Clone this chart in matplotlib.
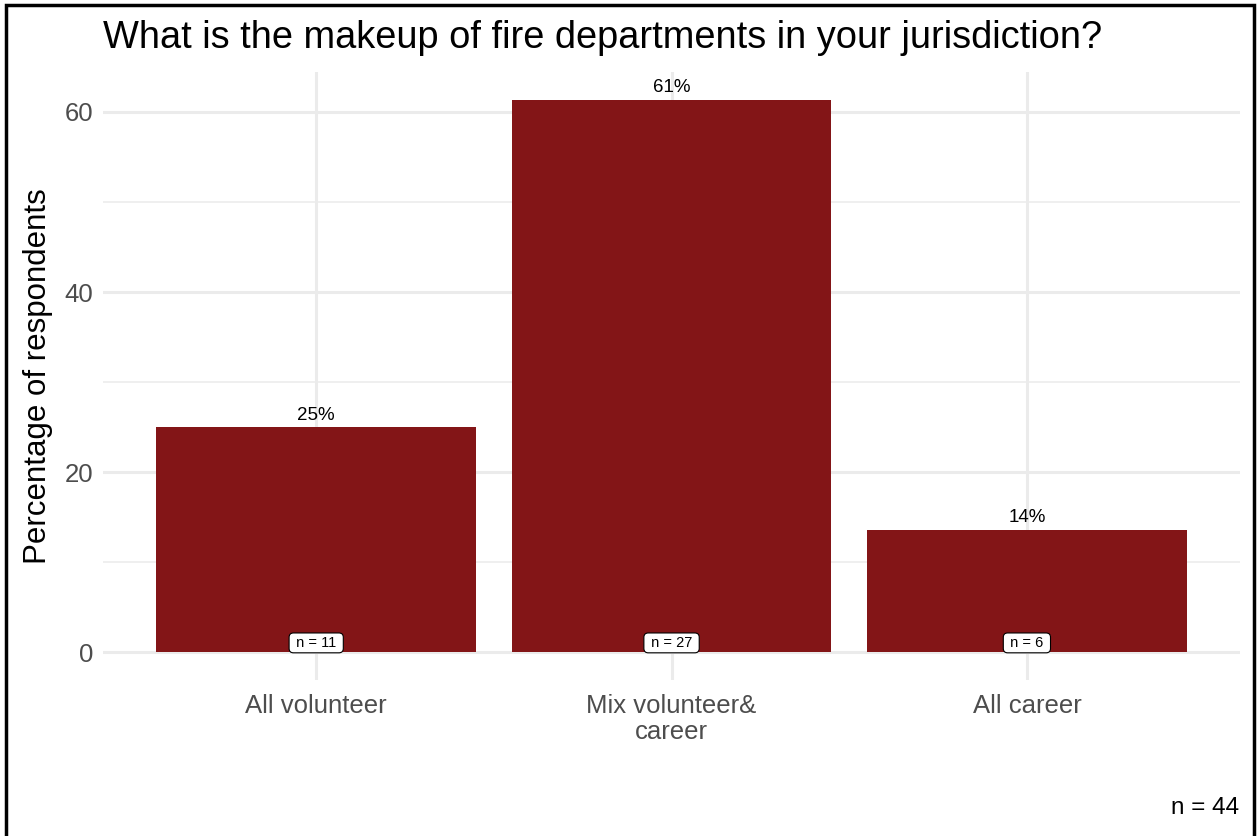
import numpy as np
import matplotlib
matplotlib.use("Agg")
import matplotlib.pyplot as plt
from matplotlib.patches import Rectangle

categories = ["All volunteer", "Mix volunteer&\ncareer", "All career"]
counts = [11, 27, 6]
total = sum(counts)
pct = [c / total * 100 for c in counts]

plt.rcParams["font.family"] = ["Liberation Sans", "DejaVu Sans"]

fig = plt.figure(figsize=(12.59, 8.36), dpi=100)
ax = fig.add_axes([0.0818, 0.1866, 0.9032, 0.7273])

x = np.arange(1, len(categories) + 1)
ax.bar(x, pct, width=0.9, color="#831517", zorder=2)

for xi, p, c in zip(x, pct, counts):
    ax.text(xi, p + 0.4, "%d%%" % round(p), ha="center", va="bottom",
            fontsize=13.5, color="black", zorder=3)
    ax.text(xi, 1.05, " n = %d " % c, ha="center", va="center", fontsize=10.5,
            color="black", zorder=4,
            bbox=dict(boxstyle="round,pad=0.2,rounding_size=0.3",
                      facecolor="white", edgecolor="black", linewidth=0.8))

ax.set_xlim(0.4, 3.6)
ax.set_ylim(-3.07, 64.43)
ax.set_xticks(x)
ax.set_xticklabels(categories, fontsize=18.5, color="#4D4D4D", linespacing=1.1)
ax.set_yticks([0, 20, 40, 60])
ax.set_yticks([10, 30, 50], minor=True)
ax.tick_params(axis="y", labelsize=18.5, labelcolor="#4D4D4D", length=0, pad=7)
ax.tick_params(axis="x", length=0, pad=10)
ax.tick_params(which="minor", length=0)
ax.grid(True, which="major", color="#EBEBEB", linewidth=2.2, zorder=0)
ax.grid(True, which="minor", axis="y", color="#EBEBEB", linewidth=1.1, zorder=0)
ax.set_axisbelow(True)
for s in ax.spines.values():
    s.set_visible(False)

ax.set_ylabel("Percentage of respondents", fontsize=22.5, color="black", labelpad=8)
ax.set_title("What is the makeup of fire departments in your jurisdiction?",
             fontsize=27.4, loc="left", pad=17, color="black")

fig.text(0.984, 0.034, "n = %d" % total, ha="right", va="center", fontsize=17.5)

border = Rectangle((0.005, -0.02), 0.991, 1.014, transform=fig.transFigure,
                   fill=False, edgecolor="black", linewidth=2.5, clip_on=False)
fig.patches.append(border)

fig.savefig("out.png", dpi=100, facecolor="white")
